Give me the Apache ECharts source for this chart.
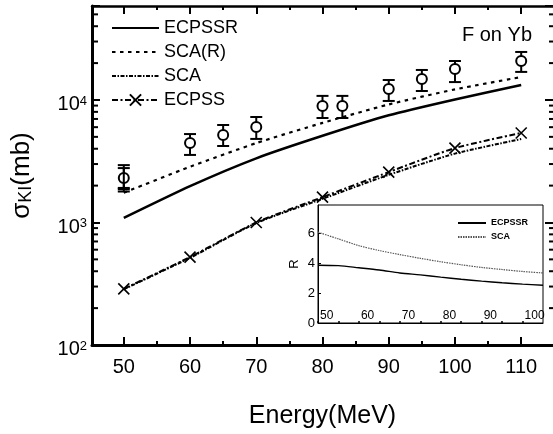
<!DOCTYPE html>
<html>
<head>
<meta charset="utf-8">
<script src="https://cdn.jsdelivr.net/npm/echarts@6/dist/echarts.min.js"></script>
<style>
  html, body { margin: 0; padding: 0; background: #fff; }
  #chart { width: 553px; height: 434px; }
</style>
</head>
<body>
<div id="chart"></div>
<script>
  // main panel: cross sections (mb) vs energy (MeV)
  const energies = [50, 60, 70, 80, 90, 100, 110]
  const ecpssr = [1090, 1980, 3340, 5100, 7500, 10100, 13250]
  const scaR = [1750, 2850, 4450, 6500, 9200, 12200, 15400]
  const sca = [285, 515, 990, 1560, 2450, 3650, 4800]
  const ecpss = [287, 522, 1000, 1610, 2580, 4050, 5380]

  // measured points with error bars
  const expE = [50, 60, 65, 70, 80, 83, 90, 95, 100, 110]
  const expV = [2310, 4460, 5180, 6030, 8940, 8940, 12300, 14840, 17900, 20800]
  const expLo = [1915, 3560, 4210, 4810, 7130, 7130, 9820, 11840, 14000, 16950]
  const expHi = [2940, 5270, 6250, 7260, 10800, 10800, 14550, 17580, 20800, 24660]
  // second measurement at 50 MeV (bar marker)
  const exp2E = [50]
  const exp2V = [1870]
  const exp2Lo = [1790]
  const exp2Hi = [2780]

  // inset: ratio R
  const insetE = [50, 55, 60, 65, 70, 75, 80, 85, 90, 95, 100, 105]
  const rEcpssr = [3.87, 3.84, 3.70, 3.55, 3.35, 3.22, 3.07, 2.93, 2.80, 2.69, 2.60, 2.53]
  const rSca = [6.08, 5.63, 5.18, 4.85, 4.58, 4.33, 4.10, 3.90, 3.72, 3.58, 3.45, 3.35]

  // ticks
  const xMajor = [50, 60, 70, 80, 90, 100, 110]
  const xMinor = [55, 65, 75, 85, 95, 105]
  const yMinor = [200, 300, 400, 500, 600, 700, 800, 900,
    2000, 3000, 4000, 5000, 6000, 7000, 8000, 9000,
    20000, 30000, 40000, 50000]
  const insetXMajor = [50, 60, 70, 80, 90, 100]
  const insetXMinor = [55, 65, 75, 85, 95]
  const insetYTicks = [0, 2, 4, 6]

  const X_MIN = 45.2, X_MAX = 114.8
  const Y_MIN = 100, Y_MAX = 58500
  const FONT = 'Liberation Sans, Arial, Helvetica, sans-serif'
  const X_SYMBOL = 'path://M0,0L10,10M10,0L0,10'

  const pair = (xs, ys) => xs.map((x, i) => [x, ys[i]])

  let chart = echarts.init(document.getElementById('chart'))

  // lines without markers: keep a transparent symbol so the legend shows only the line
  const lineSeries = (name, data, lineStyle, extra) => Object.assign({
    name: name,
    type: 'line',
    xAxisIndex: 0,
    yAxisIndex: 0,
    data: data,
    symbol: 'rect',
    showSymbol: false,
    smooth: 0.2,
    silent: true,
    itemStyle: {color: 'transparent'},
    lineStyle: Object.assign({color: '#000'}, lineStyle),
    z: 3
  }, extra || {})

  let option = {
    animation: false,
    textStyle: {fontFamily: FONT, color: '#000'},
    title: {
      text: 'F on Yb',
      right: 16,
      top: 20,
      textStyle: {fontFamily: FONT, fontSize: 20, fontWeight: 'normal', color: '#000'}
    },
    grid: [
      {left: 92, top: 6, right: 0, bottom: 89},
      {left: 318, top: 205, right: 10, bottom: 111, show: true, borderColor: '#000', borderWidth: 1, backgroundColor: '#fff', z: 1}
    ],
    legend: [
      {
        data: ['ECPSSR', 'SCA(R)', 'SCA', 'ECPSS'],
        orient: 'vertical',
        left: 106,
        top: 14,
        itemWidth: 47,
        itemHeight: 14,
        itemGap: 6,
        selectedMode: false,
        textStyle: {fontFamily: FONT, fontSize: 18, lineHeight: 18, color: '#000'}
      },
      {
        data: ['R_ECPSSR', 'R_SCA'],
        formatter: n => n.slice(2),
        orient: 'vertical',
        left: 452,
        top: 213,
        itemWidth: 28,
        itemHeight: 8,
        itemGap: 4,
        selectedMode: false,
        z: 6,
        textStyle: {fontFamily: FONT, fontSize: 9, fontWeight: 'bold', lineHeight: 10, color: '#000'}
      }
    ],
    xAxis: [
      {
        gridIndex: 0, type: 'value', min: X_MIN, max: X_MAX, position: 'bottom',
        axisLine: {lineStyle: {color: '#000', width: 3}},
        axisTick: {inside: true, length: 8, lineStyle: {color: '#000', width: 2}, customValues: xMajor},
        axisLabel: {customValues: xMajor, fontSize: 20, color: '#000', margin: 12, fontFamily: FONT},
        splitLine: {show: false},
        name: 'Energy(MeV)', nameLocation: 'middle', nameGap: 59,
        nameTextStyle: {fontSize: 25, color: '#000', fontFamily: FONT}
      },
      {
        gridIndex: 0, type: 'value', min: X_MIN, max: X_MAX, position: 'bottom',
        axisLine: {show: false},
        axisTick: {inside: true, length: 4, lineStyle: {color: '#000', width: 2}, customValues: xMinor},
        axisLabel: {show: false},
        splitLine: {show: false}
      },
      {
        gridIndex: 0, type: 'value', min: X_MIN, max: X_MAX, position: 'top',
        axisLine: {lineStyle: {color: '#000', width: 2.5}},
        axisTick: {inside: true, length: 8, lineStyle: {color: '#000', width: 2}, customValues: xMajor},
        axisLabel: {show: false},
        splitLine: {show: false}
      },
      {
        gridIndex: 0, type: 'value', min: X_MIN, max: X_MAX, position: 'top',
        axisLine: {show: false},
        axisTick: {inside: true, length: 4, lineStyle: {color: '#000', width: 2}, customValues: xMinor},
        axisLabel: {show: false},
        splitLine: {show: false}
      },
      {
        gridIndex: 1, type: 'value', min: 50, max: 105, position: 'bottom', z: 5,
        axisLine: {lineStyle: {color: '#000', width: 1}},
        axisTick: {inside: true, length: 2, lineStyle: {color: '#000', width: 1.5}, customValues: insetXMajor},
        axisLabel: {inside: true, customValues: insetXMajor, fontSize: 12, color: '#000', margin: 1, align: 'left', padding: [0, 0, 0, 2], fontFamily: FONT},
        splitLine: {show: false}
      },
      {
        gridIndex: 1, type: 'value', min: 50, max: 105, position: 'bottom', z: 5,
        axisLine: {show: false},
        axisTick: {inside: true, length: 2, lineStyle: {color: '#000', width: 1.5}, customValues: insetXMinor},
        axisLabel: {show: false},
        splitLine: {show: false}
      }
    ],
    yAxis: [
      {
        gridIndex: 0, type: 'log', logBase: 10, min: Y_MIN, max: Y_MAX, position: 'left',
        axisLine: {show: true, lineStyle: {color: '#000', width: 3}},
        axisTick: {show: true, inside: true, length: 8, lineStyle: {color: '#000', width: 2}},
        axisLabel: {
          margin: 5,
          padding: [9, 0, 0, 0],
          formatter: v => {
            const e = Math.round(Math.log10(v))
            return Math.abs(Math.pow(10, e) - v) < 1e-6 * v ? '{a|10}{b|' + e + '}' : ''
          },
          rich: {
            a: {fontSize: 20, lineHeight: 20, color: '#000', fontFamily: FONT},
            b: {fontSize: 13, lineHeight: 13, verticalAlign: 'top', color: '#000', fontFamily: FONT}
          }
        },
        splitLine: {show: false},
        name: '{a|σ}{b|KI}{a|(mb)}', nameLocation: 'middle', nameGap: 57,
        nameTextStyle: {
          rich: {
            a: {fontSize: 26, lineHeight: 27, color: '#000', fontFamily: FONT},
            b: {fontSize: 18, lineHeight: 18, verticalAlign: 'bottom', color: '#000', fontFamily: FONT}
          }
        }
      },
      {
        gridIndex: 0, type: 'log', logBase: 10, min: Y_MIN, max: Y_MAX, position: 'right',
        axisLine: {show: false},
        axisTick: {show: true, inside: true, length: 8, lineStyle: {color: '#000', width: 2}},
        axisLabel: {show: false},
        splitLine: {show: false}
      },
      {
        gridIndex: 1, type: 'value', min: 0, max: 7.9, z: 5,
        axisLine: {show: true, lineStyle: {color: '#000', width: 1}},
        axisTick: {show: true, inside: true, length: 3, lineStyle: {color: '#000', width: 1}, customValues: insetYTicks},
        axisLabel: {customValues: insetYTicks, fontSize: 13, color: '#000', margin: 3, fontFamily: FONT},
        splitLine: {show: false},
        name: 'R', nameLocation: 'middle', nameGap: 17,
        nameTextStyle: {fontSize: 13, color: '#000', fontFamily: FONT}
      }
    ],
    series: [
      lineSeries('ECPSSR', pair(energies, ecpssr), {width: 2.5, type: 'solid'}),
      lineSeries('SCA(R)', pair(energies, scaR), {width: 2.2, type: [3.5, 4.5]}),
      lineSeries('SCA', pair(energies, sca), {width: 2, type: [4, 1.5, 1.5, 1.5]}),
      lineSeries('ECPSS', pair(energies, ecpss), {width: 2, type: [6, 2.5, 2, 2.5]}, {
        symbol: X_SYMBOL,
        symbolSize: 11,
        showSymbol: true,
        itemStyle: {color: 'transparent', borderColor: '#000', borderWidth: 1.6}
      }),
      {
        // minor log ticks on both sides of the main frame
        type: 'custom',
        xAxisIndex: 0,
        yAxisIndex: 0,
        silent: true,
        z: 2,
        data: yMinor.map(v => [X_MIN, v]),
        encode: {x: 0, y: 1},
        renderItem: (params, api) => {
          const cs = params.coordSys
          const y = api.coord([api.value(0), api.value(1)])[1]
          const st = {stroke: '#000', lineWidth: 2}
          return {
            type: 'group',
            children: [
              {type: 'line', shape: {x1: cs.x, y1: y, x2: cs.x + 6, y2: y}, style: st},
              {type: 'line', shape: {x1: cs.x + cs.width - 4, y1: y, x2: cs.x + cs.width, y2: y}, style: st}
            ]
          }
        }
      },
      {
        // experimental points with error bars
        type: 'custom',
        xAxisIndex: 0,
        yAxisIndex: 0,
        silent: true,
        z: 5,
        data: expE.map((e, i) => [e, expV[i], expLo[i], expHi[i], 0])
          .concat(exp2E.map((e, i) => [e, exp2V[i], exp2Lo[i], exp2Hi[i], 1])),
        encode: {x: 0, y: 1},
        renderItem: (params, api) => {
          const x = api.value(0)
          const c = api.coord([x, api.value(1)])
          const lo = api.coord([x, api.value(2)])[1]
          const hi = api.coord([x, api.value(3)])[1]
          const st = {stroke: '#000', lineWidth: 2}
          let kids = [
            {type: 'line', shape: {x1: c[0], y1: lo, x2: c[0], y2: hi}, style: st},
            {type: 'line', shape: {x1: c[0] - 6, y1: lo, x2: c[0] + 6, y2: lo}, style: st},
            {type: 'line', shape: {x1: c[0] - 6, y1: hi, x2: c[0] + 6, y2: hi}, style: st}
          ]
          if (api.value(4) === 0) {
            kids.push({type: 'circle', shape: {cx: c[0], cy: c[1], r: 5}, style: {fill: '#fff', stroke: '#000', lineWidth: 2}})
          } else {
            kids.push({type: 'line', shape: {x1: c[0] - 6, y1: c[1], x2: c[0] + 6, y2: c[1]}, style: st})
          }
          return {type: 'group', children: kids}
        }
      },
      {
        name: 'R_ECPSSR', type: 'line', xAxisIndex: 4, yAxisIndex: 2,
        data: pair(insetE, rEcpssr), symbol: 'rect', showSymbol: false, smooth: 0.3, silent: true, z: 6,
        itemStyle: {color: 'transparent'},
        lineStyle: {color: '#000', width: 1.4}
      },
      {
        name: 'R_SCA', type: 'line', xAxisIndex: 4, yAxisIndex: 2,
        data: pair(insetE, rSca), symbol: 'rect', showSymbol: false, smooth: 0.3, silent: true, z: 6,
        itemStyle: {color: 'transparent'},
        lineStyle: {color: '#555', width: 1.2, type: [1.5, 1]}
      }
    ]
  }
  chart.setOption(option)
</script>
</body>
</html>
